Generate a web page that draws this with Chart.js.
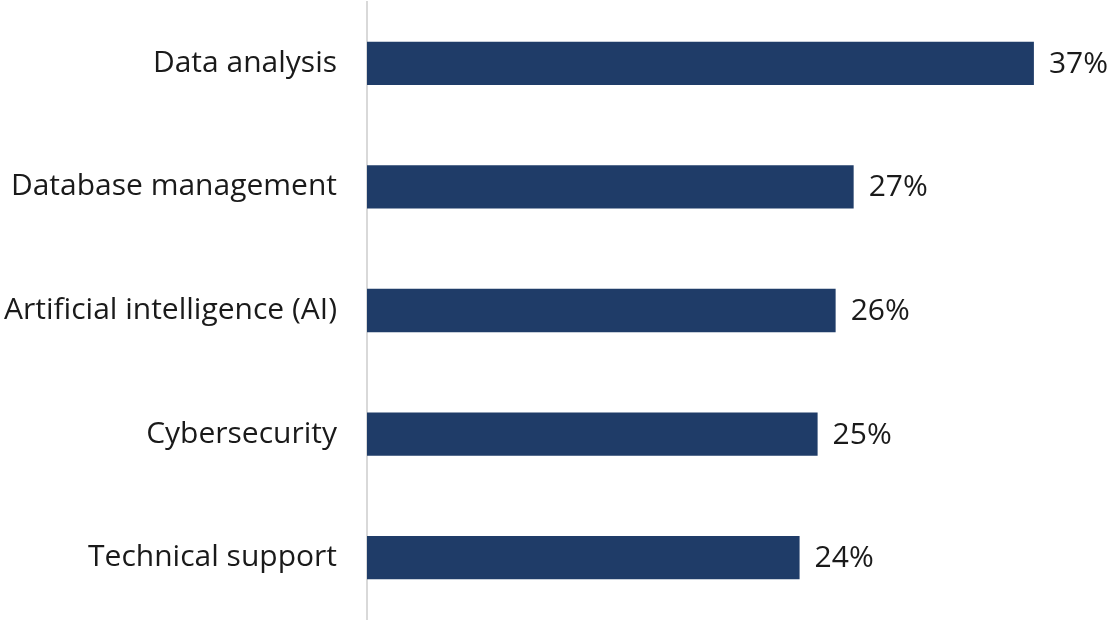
<!DOCTYPE html>
<html>
<head>
<meta charset="utf-8">
<script src="https://cdn.jsdelivr.net/npm/chart.js@4/dist/chart.umd.min.js"></script>
<style>
  html, body { margin: 0; padding: 0; background: #fff; }
  #wrap { width: 1109px; height: 621px; }
</style>
</head>
<body>
<div id="wrap"><canvas id="skills-chart" width="1109" height="621"></canvas></div>
<script>
// Chart data
const categories = ['Data analysis', 'Database management', 'Artificial intelligence (AI)', 'Cybersecurity', 'Technical support'];
const shares = [37, 27, 26, 25, 24];
const valueLabels = ['37%', '27%', '26%', '25%', '24%'];

const barColor = '#1f3c68';
const fontFamily = '"Open Sans", Lato, sans-serif';
const fontSize = 30;

// draw the % label just right of each bar
const valueLabelPlugin = {
  id: 'valueLabels',
  afterDatasetsDraw(chart) {
    const ctx = chart.ctx;
    const meta = chart.getDatasetMeta(0);
    ctx.save();
    ctx.font = fontSize + 'px ' + fontFamily;
    ctx.fillStyle = '#1a1a1a';
    ctx.textAlign = 'left';
    ctx.textBaseline = 'middle';
    meta.data.forEach((bar, i) => {
      ctx.fillText(valueLabels[i], bar.x + 15, bar.y + 1);
    });
    ctx.restore();
  }
};

const ctx = document.getElementById('skills-chart').getContext('2d');
new Chart(ctx, {
  type: 'bar',
  data: {
    labels: categories,
    datasets: [{
      data: shares,
      backgroundColor: barColor,
      borderWidth: 0,
      barPercentage: 0.35,
      categoryPercentage: 1
    }]
  },
  options: {
    indexAxis: 'y',
    responsive: false,
    animation: false,
    layout: { padding: 0 },
    plugins: {
      legend: { display: false },
      tooltip: { enabled: false }
    },
    scales: {
      x: {
        display: false,
        min: 0,
        max: 741 / 18
      },
      y: {
        afterFit(scale) { scale.width = 367; },
        // invisible tick marks give the gap between labels and axis line
        grid: { display: true, drawOnChartArea: false, drawTicks: true, tickLength: 30, color: 'rgba(0,0,0,0)' },
        border: { display: true, color: '#d9d9d9', width: 2 },
        ticks: {
          padding: 0,
          color: '#1a1a1a',
          font: { family: fontFamily, size: fontSize, lineHeight: 0.1 }
        }
      }
    }
  },
  plugins: [valueLabelPlugin]
});
</script>
</body>
</html>
